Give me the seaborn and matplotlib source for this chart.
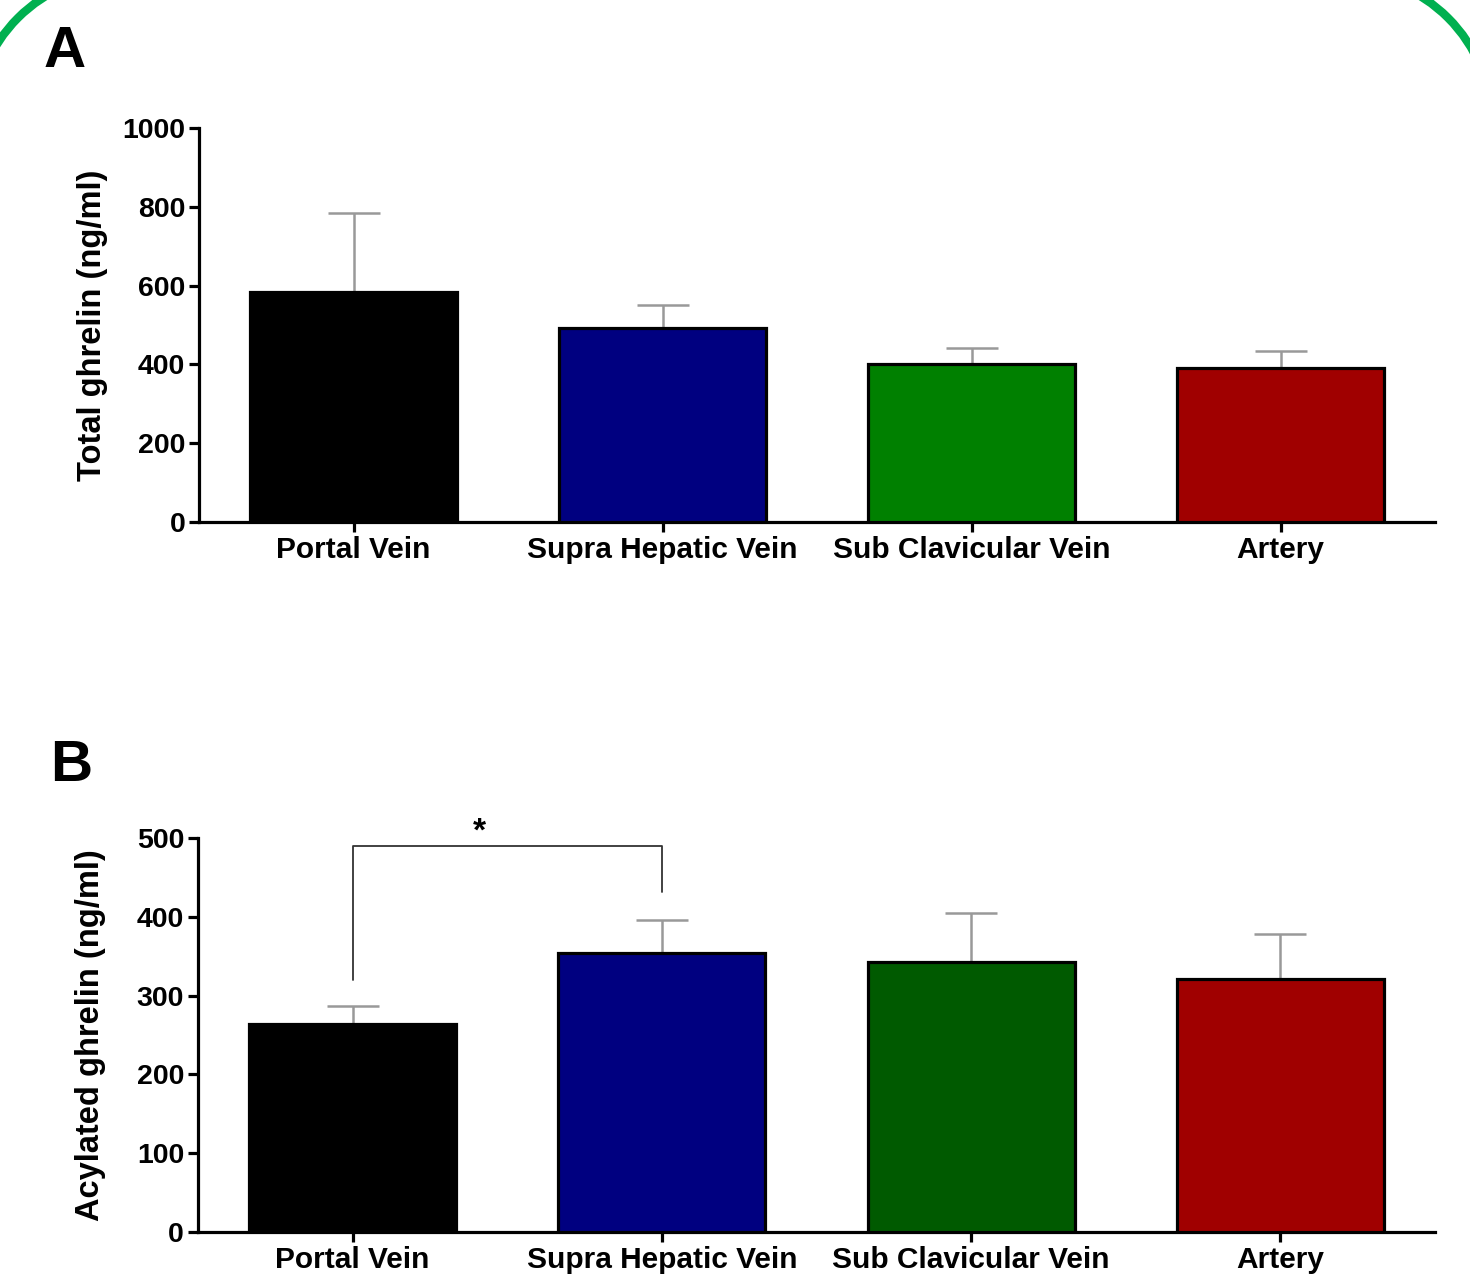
import matplotlib
matplotlib.use("Agg")
import matplotlib.pyplot as plt
import seaborn as sns
import numpy as np
import pandas as pd
from matplotlib.patches import Arc

categories = ["Portal Vein", "Supra Hepatic Vein", "Sub Clavicular Vein", "Artery"]
total_mean = [584, 492, 401, 391]
total_sem = [200, 59, 41, 43]
acyl_mean = [264, 354, 343, 321]
acyl_sem = [23, 42, 62, 57]
colors_a = ["#000000", "#000080", "#008000", "#A00000"]
colors_b = ["#000000", "#000080", "#005A00", "#A00000"]
yticks_a = [0, 200, 400, 600, 800, 1000]
yticks_b = [0, 100, 200, 300, 400, 500]

sns.set_theme(style="white")
plt.rcParams['font.family'] = ['Liberation Sans', 'DejaVu Sans']
plt.rcParams['font.weight'] = 'bold'
plt.rcParams['text.color'] = 'black'
plt.rcParams['axes.labelcolor'] = 'black'
plt.rcParams['xtick.color'] = 'black'
plt.rcParams['ytick.color'] = 'black'

fig = plt.figure(figsize=(14.7, 12.78), dpi=100)

# decorative green rounded corners
deco = fig.add_axes([0, 0, 1, 1], zorder=-5)
deco.set_xlim(0, 1470)
deco.set_ylim(1278, 0)
deco.axis("off")
deco.add_patch(Arc((124, 124), 300, 300, theta1=180, theta2=270,
                   edgecolor="#00B050", linewidth=6))
deco.add_patch(Arc((1342, 124), 300, 300, theta1=270, theta2=360,
                   edgecolor="#00B050", linewidth=6))

axA = fig.add_axes([0.1354, 0.5915, 0.8408, 0.3083])
axB = fig.add_axes([0.1347, 0.0360, 0.8415, 0.3083])

def draw(ax, means, sems, colors, yticks, ylabel):
    df = pd.DataFrame({"cat": categories, "val": means})
    sns.barplot(data=df, x="cat", y="val", hue="cat", palette=colors, legend=False,
                width=0.67, edgecolor="black", linewidth=2.3, ax=ax, zorder=3,
                errorbar=None, saturation=1)
    ax.errorbar(np.arange(len(means)), means, yerr=[np.zeros(len(sems)), sems],
                fmt="none", ecolor="#999999", elinewidth=1.8, capsize=18.5,
                capthick=1.8, zorder=2)
    ax.set_xlim(-0.5, 3.5)
    ax.set_ylim(0, yticks[-1])
    ax.set_yticks(yticks)
    ax.set_yticklabels([str(t) for t in yticks], fontsize=20.5, fontweight="bold")
    ax.set_xticks(range(len(categories)))
    ax.set_xticklabels(categories, fontsize=21.5, fontweight="bold")
    ax.set_xlabel("")
    ax.set_ylabel(ylabel, fontsize=23.5, fontweight="bold")
    ax.yaxis.set_label_coords(-0.074, 0.5)
    for s in ["top", "right"]:
        ax.spines[s].set_visible(False)
    for s in ["left", "bottom"]:
        ax.spines[s].set_linewidth(2.3)
        ax.spines[s].set_color("black")
    ax.tick_params(axis="both", which="major", direction="out", length=7,
                   width=2.3, color="black", left=True, bottom=True, pad=3)
    ax.set_facecolor("white")
    ax.grid(False)

draw(axA, total_mean, total_sem, colors_a, yticks_a, "Total ghrelin (ng/ml)")
draw(axB, acyl_mean, acyl_sem, colors_b, yticks_b, "Acylated ghrelin (ng/ml)")

# significance bracket
bx0, bx1, by = 0, 1, 490
axB.plot([bx0, bx0, bx1, bx1], [320, by, by, 431], color="#333333", lw=1.3,
         zorder=4, clip_on=False)
axB.text(0.41, by - 2, "*", ha="center", va="bottom", fontsize=24, fontweight="bold")

fig.text(44 / 1470, 1 - 52 / 1278, "A", fontsize=42, fontweight="bold", va="center", ha="left")
fig.text(50 / 1470, 1 - 766 / 1278, "B", fontsize=42, fontweight="bold", va="center", ha="left")

fig.savefig("out.png", dpi=100, facecolor="white")
